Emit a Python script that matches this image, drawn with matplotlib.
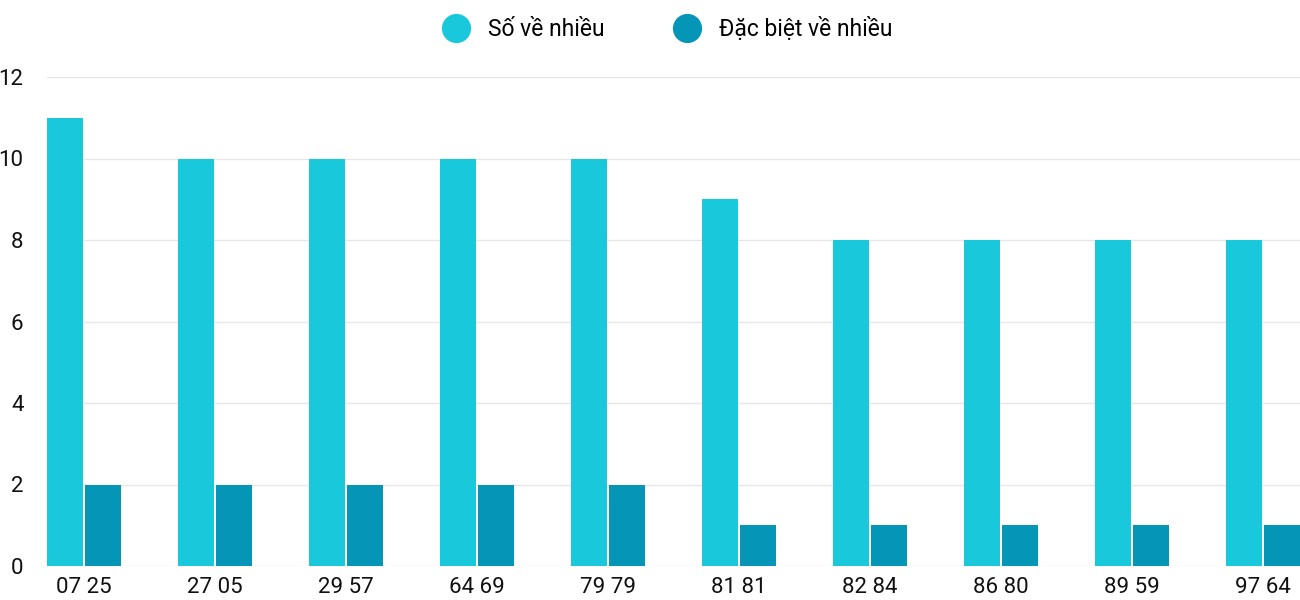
import matplotlib
matplotlib.use("Agg")
import matplotlib.pyplot as plt
from matplotlib.lines import Line2D
import numpy as np

categories = ["07 25", "27 05", "29 57", "64 69", "79 79", "81 81", "82 84", "86 80", "89 59", "97 64"]
so_ve_nhieu = [11, 10, 10, 10, 10, 9, 8, 8, 8, 8]
dac_biet = [2, 2, 2, 2, 2, 1, 1, 1, 1, 1]

plt.rcParams['font.family'] = ['Roboto', 'DejaVu Sans']
fig = plt.figure(figsize=(13, 6), dpi=100)
ax = fig.add_axes([47/1300, 34/600, 1253/1300, 489/600])
x = np.arange(len(categories))
w = 0.275
c1, c2 = "#1ac8db", "#0596b7"
ax.bar(x - 0.145, so_ve_nhieu, w, color=c1, zorder=3)
ax.bar(x + 0.145, dac_biet, w, color=c2, zorder=3)
ax.set_xlim(-0.2825, 9.2825)
ax.set_ylim(0, 12)
ax.set_yticks(range(0, 13, 2))
ax.set_xticks(x)
ax.set_xticklabels(categories)
ax.tick_params(axis='both', length=0, labelsize=16, colors="#111111")
ax.tick_params(axis='y', pad=17)
ax.tick_params(axis='x', pad=8)
ax.grid(axis='y', color="#e6e6e6", lw=1, zorder=0)
for s in ax.spines.values():
    s.set_visible(False)
handles = [Line2D([], [], marker='o', ls='', ms=20, color=c1),
           Line2D([], [], marker='o', ls='', ms=20, color=c2)]
fig.legend(handles, ["Số về nhiều", "Đặc biệt về nhiều"], loc='center', bbox_to_anchor=(0.51, 0.952),
           ncol=2, frameon=False, fontsize=16.5, handletextpad=0.4, columnspacing=2.6)
fig.savefig("out.png", dpi=100)
